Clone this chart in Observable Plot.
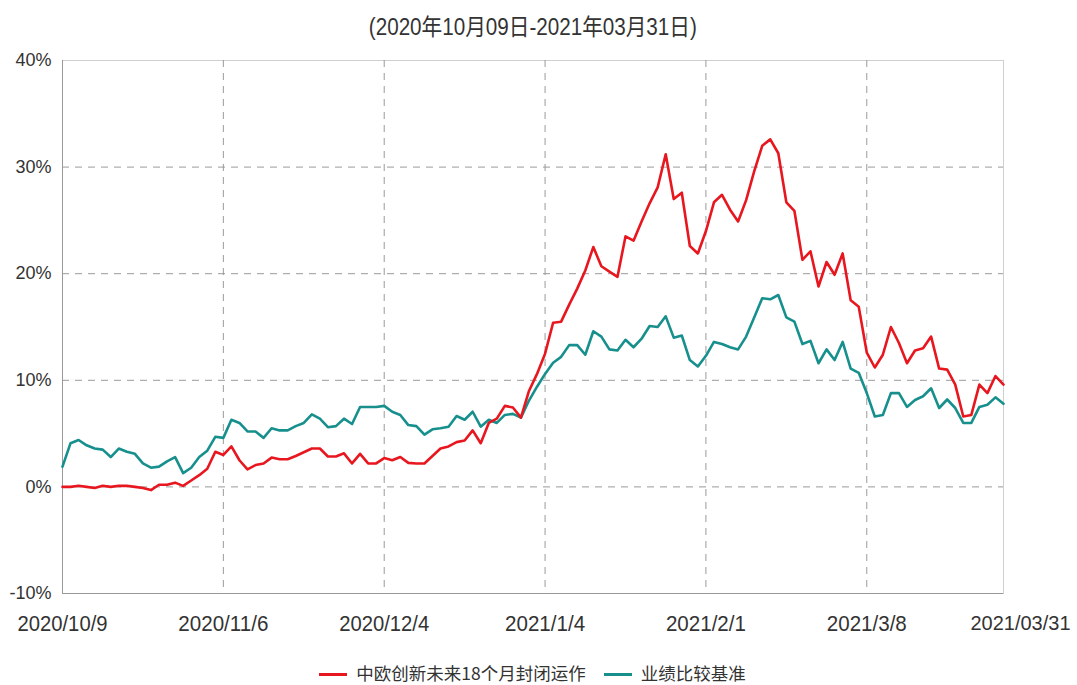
<!DOCTYPE html>
<html><head><meta charset="utf-8">
<script src="https://cdn.jsdelivr.net/npm/d3@7"></script>
<script src="https://cdn.jsdelivr.net/npm/@observablehq/plot@0.6"></script>
<style>
html,body{margin:0;padding:0;background:#fff;}
#wrap{width:1077px;height:685px;overflow:hidden;}
#title{height:45px;box-sizing:border-box;padding-top:13px;padding-left:62px;width:1003px;text-align:center;
  font-family:"Liberation Sans","Noto Sans CJK SC",sans-serif;font-size:23px;line-height:28px;color:#333;white-space:nowrap;}
#title span{display:inline-block;transform-origin:50% 50%;}
#chart svg{display:block;}
#legend{height:42px;box-sizing:border-box;padding-top:20px;padding-left:62px;width:1003px;text-align:center;
  font-family:"Noto Sans CJK SC",sans-serif;font-size:17.5px;line-height:20px;color:#333;white-space:nowrap;}
.sw{display:inline-block;width:28px;height:3px;vertical-align:middle;margin-right:9px;position:relative;top:-1px;}
.item{display:inline-block;margin:0 9px;}
</style></head>
<body><div id="wrap">
<div id="title"></div>
<div id="chart"></div>
<div id="legend"></div>
</div>
<script>
const titleText = "(2020年10月09日-2021年03月31日)";
const seriesNames = ["中欧创新未来18个月封闭运作", "业绩比较基准"];
const seriesColors = ["#e8161e", "#17908d"];

// cumulative return (%) per trading day, index 0 = 2020/10/9 ... 117 = 2021/03/31
const fundReturn = [
0.0,0.0,0.1,0.0,-0.1,0.1,0.0,0.1,0.1,0.0,
-0.1,-0.3,0.2,0.2,0.4,0.1,0.6,1.1,1.7,3.3,
3.0,3.8,2.5,1.65,2.05,2.2,2.75,2.6,2.6,2.9,
3.25,3.6,3.6,2.85,2.85,3.15,2.2,3.1,2.2,2.2,
2.7,2.5,2.8,2.25,2.2,2.2,2.9,3.6,3.8,4.2,
4.35,5.3,4.1,6.0,6.4,7.6,7.45,6.5,9.0,10.6,
12.5,15.4,15.5,17.1,18.6,20.3,22.5,20.7,20.2,19.7,
23.5,23.1,24.9,26.6,28.1,31.2,27.0,27.6,22.6,21.9,
24.0,26.7,27.4,26.0,24.9,26.9,29.6,32.0,32.6,31.3,
26.7,25.9,21.3,22.1,18.8,21.1,19.9,21.9,17.5,16.9,
12.6,11.2,12.4,15.0,13.5,11.6,12.8,13.0,14.1,11.1,
11.0,9.6,6.6,6.75,9.6,8.8,10.4,9.6];

const benchReturn = [
1.9,4.1,4.4,3.9,3.6,3.5,2.8,3.6,3.3,3.1,
2.2,1.8,1.9,2.4,2.8,1.3,1.8,2.8,3.4,4.7,
4.6,6.3,6.0,5.2,5.2,4.6,5.5,5.3,5.3,5.7,
6.0,6.8,6.4,5.6,5.7,6.4,5.9,7.5,7.5,7.5,
7.6,7.05,6.75,5.8,5.7,4.9,5.4,5.5,5.65,6.65,
6.3,7.05,5.65,6.3,6.0,6.75,6.85,6.5,8.1,9.4,
10.6,11.65,12.2,13.3,13.3,12.4,14.6,14.1,12.9,12.8,
13.8,13.1,13.9,15.1,15.0,16.0,14.0,14.2,11.9,11.3,
12.3,13.6,13.4,13.1,12.9,14.1,15.9,17.7,17.6,18.0,
15.9,15.5,13.4,13.7,11.6,12.9,11.9,13.6,11.1,10.7,
8.8,6.6,6.75,8.8,8.8,7.5,8.15,8.5,9.25,7.4,
8.2,7.4,6.0,6.0,7.5,7.7,8.4,7.8];

const xTickIndex = [0, 20, 40, 60, 80, 100];
const xTickLabels = ["2020/10/9", "2020/11/6", "2020/12/4", "2021/1/4", "2021/2/1", "2021/3/8"];
const xLastIndex = 117;
const xLastLabel = "2021/03/31";
const yTicks = [-10, 0, 10, 20, 30, 40];
const yGrid = [0, 10, 20, 30];

const titleSpan = document.createElement("span");
titleSpan.textContent = titleText;
document.getElementById("title").appendChild(titleSpan);

const days = d3.range(fundReturn.length);
const axisFont = "'Liberation Sans',Arial,sans-serif";

const chart = Plot.plot({
  width: 1077,
  height: 598,
  marginTop: 15,
  marginBottom: 50,
  marginLeft: 62,
  marginRight: 74,
  style: {background: "#fff", color: "#333"},
  x: {type: "linear", domain: [0, xLastIndex]},
  y: {domain: [-10, 40]},
  marks: [
    Plot.frame({stroke: "#cfcfcf"}),
    Plot.gridX(xTickIndex.slice(1), {stroke: "#9a9a9a", strokeOpacity: 1, strokeDasharray: "7,6"}),
    Plot.gridY(yGrid, {stroke: "#9a9a9a", strokeOpacity: 1, strokeDasharray: "7,6"}),
    Plot.ruleX([0], {stroke: "#999"}),
    Plot.ruleY([-10], {stroke: "#999"}),
    Plot.axisX(xTickIndex, {className: "xlab", tickSize: 0, tickPadding: 22, fontSize: 22, fontFamily: axisFont,
      tickFormat: (d) => xTickLabels[xTickIndex.indexOf(d)], label: null, fill: "#333"}),
    Plot.axisX([xLastIndex], {className: "xlab", tickSize: 0, tickPadding: 22, fontSize: 21, fontFamily: axisFont, dx: 17,
      tickFormat: () => xLastLabel, label: null, fill: "#333"}),
    Plot.axisY(yTicks, {tickSize: 0, tickPadding: 11, fontSize: 18, fontFamily: axisFont,
      tickFormat: (d) => d + "%", label: null, fill: "#333"}),
    Plot.line(days, {x: (d) => d, y: (d) => benchReturn[d], stroke: seriesColors[1], strokeWidth: 2.6}),
    Plot.line(days, {x: (d) => d, y: (d) => fundReturn[d], stroke: seriesColors[0], strokeWidth: 2.6})
  ]
});
document.getElementById("chart").appendChild(chart);

// narrow the date labels like the reference's condensed face
chart.querySelectorAll(".xlab text").forEach((t) => {
  const n = t.textContent.length;
  t.setAttribute("textLength", (n * 10).toFixed(1));
  t.setAttribute("lengthAdjust", "spacingAndGlyphs");
});

// condense the title to the reference width
const tw = titleSpan.getBoundingClientRect().width;
titleSpan.style.transform = `scaleX(${(328 / tw).toFixed(3)})`;

const legend = document.getElementById("legend");
seriesNames.forEach((name, k) => {
  const item = document.createElement("span");
  item.className = "item";
  const sw = document.createElement("span");
  sw.className = "sw";
  sw.style.background = seriesColors[k];
  item.appendChild(sw);
  item.appendChild(document.createTextNode(name));
  legend.appendChild(item);
});
</script>
</body></html>
